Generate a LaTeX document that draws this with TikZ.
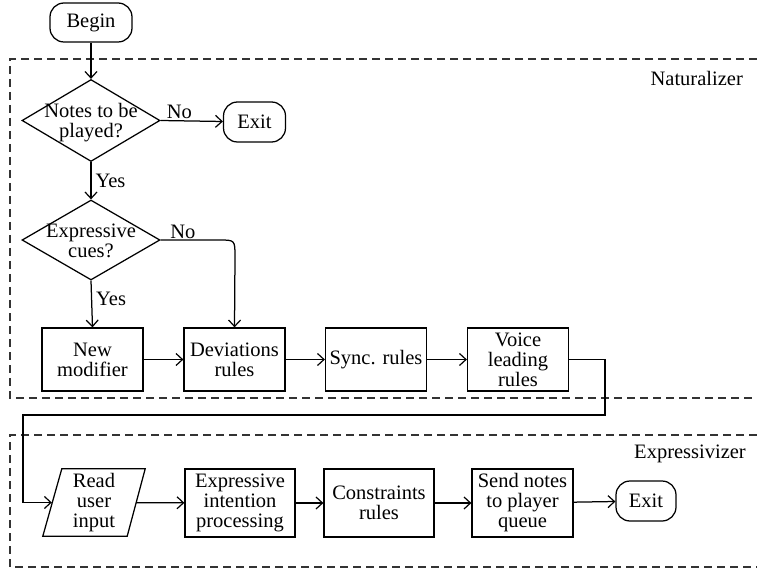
\documentclass[tikz,border=0pt]{standalone}
\usepackage{fontspec}
\setmainfont{Liberation Serif}
\usetikzlibrary{shapes.geometric,arrows.meta}
\begin{document}
\begin{tikzpicture}[x=1pt,y=-1pt,
  every node/.style={font=\fontsize{20.5}{20}\selectfont, inner sep=0pt},
  ln/.style={line width=1.25pt},
  arr/.style={ln,-{Straight Barb[length=6.5pt,width=12pt,line width=1.2pt]}},
  grp/.style={line width=1.2pt, dash pattern=on 8pt off 5pt, black!80},
  term/.style={draw, ln, rounded corners=14pt, minimum height=40pt},
  stepbox/.style={draw, ln, minimum width=101pt, minimum height=63pt, align=center},
  dia/.style={draw, ln, diamond, minimum width=138pt, minimum height=82pt},
  dlbl/.style={align=center, font=\fontsize{20.5}{20}\selectfont}
]
\useasboundingbox (0,0) rectangle (757,569);
% groups
\draw[grp] (757,59) -- (10,59) -- (10,398) -- (757,398);
\draw[grp] (757,435) -- (10,435) -- (10,567) -- (757,567);
\node[anchor=east] (natlbl) at (743,78) {Naturalizer};
\node[anchor=east] (explbl) at (746,454) {Expressivizer};

% nodes
\node[term, minimum width=82pt, minimum height=39pt] (begin) at (91,22.5) {Begin};
\node[dia, label={[dlbl, yshift=-2pt]center:Notes to be\\played?}] (d1) at (91,120.5) {};
\node[term, minimum width=62pt] (exit1) at (254.5,122) {Exit};
\node[dia, minimum height=80pt, label={[dlbl, yshift=-1pt]center:Expressive\\cues?}] (d2) at (91,240) {};
\node[stepbox] (newmod) at (92.5,359.5) {New\\modifier};
\node[stepbox] (dev) at (234.5,359.5) {Deviations\\rules};
\node[stepbox] (sync) at (376,359.5) {Sync. rules};
\node[stepbox] (voice) at (518,359.5) {Voice\\leading\\rules};

\node[minimum width=84pt, minimum height=67pt, align=center] (read) at (94,502.5) {Read\\user\\input};
\draw[ln] ([xshift=10pt]read.north west) -- ([xshift=9pt]read.north east)
  -- ([xshift=-9pt]read.south east) -- ([xshift=-9pt]read.south west) -- cycle;
\node[stepbox, minimum width=110pt, minimum height=68pt] (expr) at (240,503) {Expressive\\intention\\processing};
\node[stepbox, minimum width=110pt, minimum height=68pt] (cons) at (379,503) {Constraints\\rules};
\node[stepbox, minimum height=68pt] (send) at (522.5,503) {Send notes\\to player\\queue};
\node[term, minimum width=60pt] (exit2) at (646,501) {Exit};

% connectors
\draw[arr] (begin) -- (d1);
\draw[arr] (d1.east) -- node[above, pos=0.3, yshift=1pt] (no1) {No} (exit1);
\draw[arr] (d1.south) -- node[right, pos=0.5, xshift=4pt] (yes1) {Yes} (d2.north);
\draw[arr] (d2.south) -- node[right, pos=0.4, xshift=4pt] (yes2) {Yes} (newmod.north);
\coordinate (k1) at (219,240);
\coordinate (k2) at (235,240);
\coordinate (k3) at (235,257);
\draw[arr] (d2.east) -- node[above, pos=0.38, yshift=1pt] (no2) {No} (k1) .. controls (k2) .. (k3) -- (dev.north);
\draw[arr] (newmod) -- (dev);
\draw[arr] (dev) -- (sync);
\draw[arr] (sync) -- (voice);
\coordinate (c1) at (605,415);
\coordinate (c2) at (23,415);
\draw[arr] (voice.east) -| (c1) -- (c2) |- (read.west);
\draw[arr] (read) -- (expr);
\draw[arr] (expr) -- (cons);
\draw[arr] (cons) -- (send);
\draw[arr] (send) -- (exit2);
\end{tikzpicture}
\end{document}
